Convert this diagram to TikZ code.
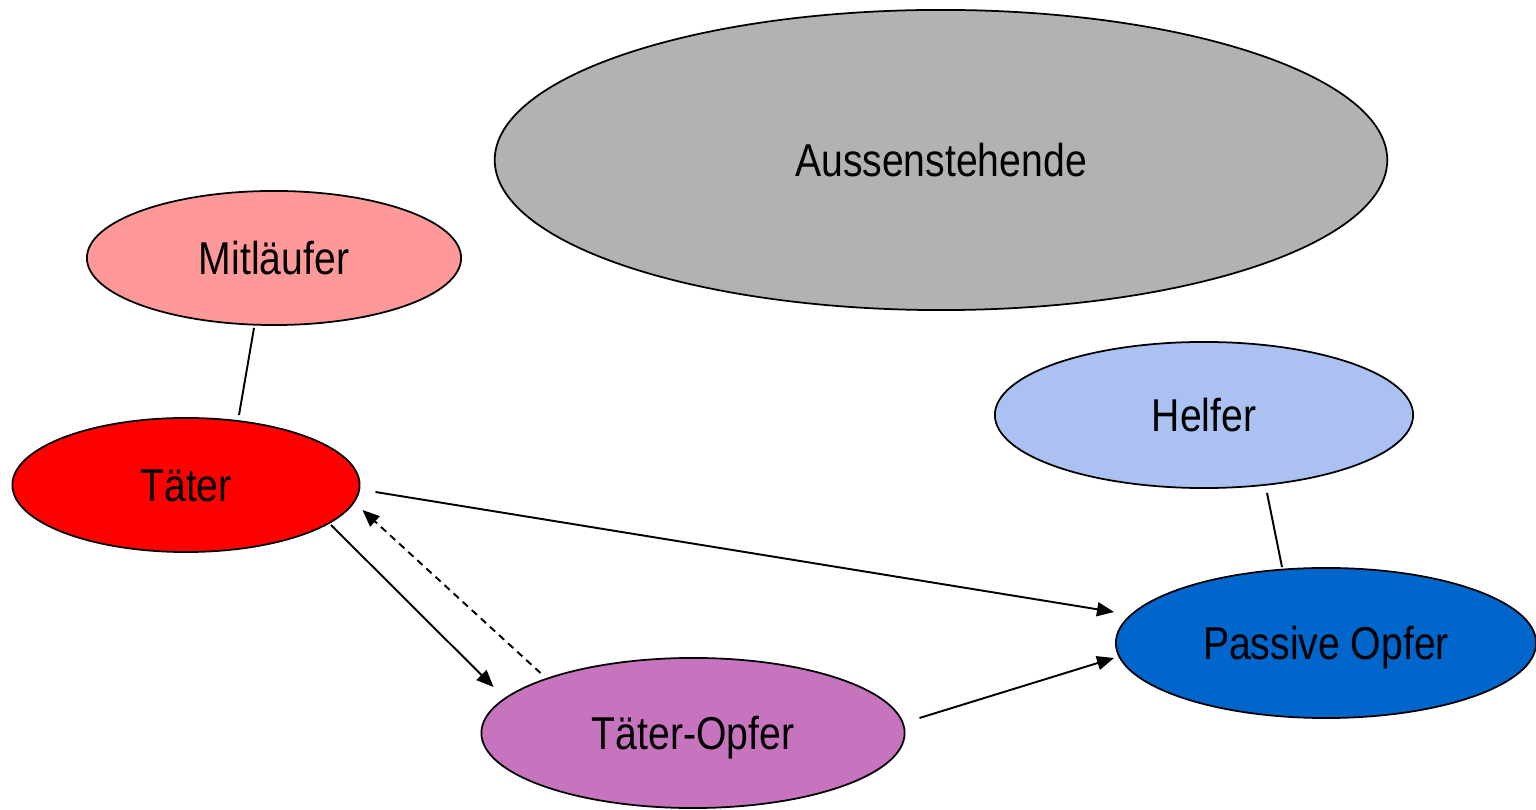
\documentclass[tikz,border=0pt]{standalone}
\usepackage{fontspec}
\setmainfont{Liberation Sans}
\usetikzlibrary{shapes.geometric,arrows.meta,calc}
\definecolor{cgray}{HTML}{B2B2B2}
\definecolor{cmit}{HTML}{FF9999}
\definecolor{ctaeter}{HTML}{FF0000}
\definecolor{chelf}{HTML}{AAC1F2}
\definecolor{cpass}{HTML}{0066CC}
\definecolor{cto}{HTML}{C774BE}
\newcommand{\nar}[1]{\scalebox{0.85}[1]{#1}}
\tikzset{
  oval/.style={ellipse, draw=black, line width=0.5pt, inner sep=0pt,
    text height=9.4pt, text depth=0pt,
    font=\fontsize{13.1}{15}\selectfont},
  link/.style={line width=0.55pt, draw=black},
  arr/.style={link, -{Triangle[length=0.17cm,width=0.14cm]}},
  darr/.style={arr, dash pattern=on 2pt off 1.5pt}
}
\begin{document}
\begin{tikzpicture}[x=0.01cm,y=-0.01cm]
\useasboundingbox (0,0) rectangle (1536,810);
\node[oval, fill=cgray, minimum width=8.92cm, minimum height=3.0cm] (aus) at (941,160) {\nar{Aussenstehende}};
\node[oval, fill=cmit, minimum width=3.74cm, minimum height=1.34cm] (mit) at (274,258) {\nar{Mitläufer}};
\node[oval, fill=ctaeter, minimum width=3.47cm, minimum height=1.34cm] (taeter) at (186,485) {\nar{Täter}};
\node[oval, fill=chelf, minimum width=4.18cm, minimum height=1.46cm] (helf) at (1204,415) {\nar{Helfer}};
\node[oval, fill=cpass, minimum width=4.20cm, minimum height=1.50cm] (pass) at (1326,643) {\nar{Passive Opfer}};
\node[oval, fill=cto, minimum width=4.23cm, minimum height=1.50cm] (to) at (693,733) {\nar{Täter-Opfer}};

\draw[link] ($(mit.south)+(-20,2)$) -- ($(taeter.north)+(53,-2)$);
\draw[link] ($(helf.south)+(63,4)$) -- ($(pass.north)+(-44,0)$);
\draw[arr] ($(taeter.east)+(15,7)$) -- ($(pass.west)+(-1,-31)$);
\draw[arr] ($(taeter.center)+(145,40)$) -- ($(to.west)+(13,-46)$);
\draw[darr] ($(to.west)+(60,-60)$) -- ($(taeter.east)+(2,25)$);
\draw[arr] ($(to.east)+(14,-15)$) -- ($(pass.west)+(-1,15)$);
\end{tikzpicture}
\end{document}
